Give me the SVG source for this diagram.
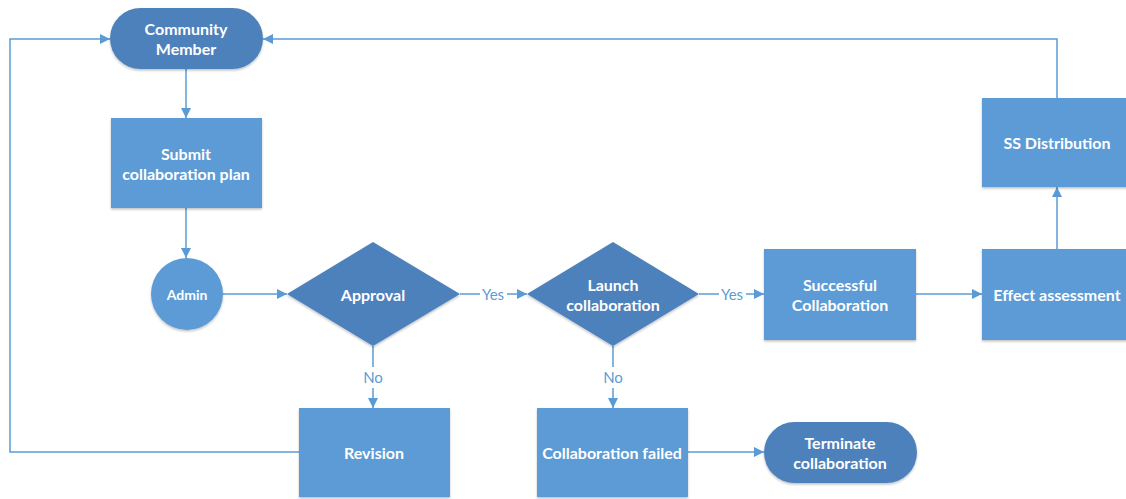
<svg xmlns="http://www.w3.org/2000/svg" width="1126" height="499" viewBox="0 0 1126 499">
<defs>
<marker id="arr" viewBox="0 0 10 10" refX="10" refY="5" markerWidth="10" markerHeight="10" markerUnits="userSpaceOnUse" orient="auto">
<path d="M0,0 L10,5 L0,10 Z" fill="#5b9bd5"/>
</marker>
<filter id="sh" x="-10%" y="-10%" width="120%" height="130%">
<feDropShadow dx="0" dy="1.5" stdDeviation="1.2" flood-color="#000" flood-opacity="0.25"/>
</filter>
</defs>
<style>
.dark{fill:#4e81bc;filter:url(#sh)}
.light{fill:#5b9bd5;filter:url(#sh)}
.t{font-family:Lato,"Open Sans","Liberation Sans",sans-serif;font-weight:bold;font-size:16px;fill:#ffffff;text-anchor:middle;dominant-baseline:central}
.c{fill:none;stroke:#5b9bd5;stroke-width:1.5}
.lbl{font-family:Lato,"Open Sans","Liberation Sans",sans-serif;font-size:15px;fill:#5b9bd5;text-anchor:middle;dominant-baseline:central}
</style>
<rect width="1126" height="499" fill="#ffffff"/>
<g id="connectors">
<path class="c" d="M186,69 V118" marker-end="url(#arr)"/>
<path class="c" d="M186,208 V258" marker-end="url(#arr)"/>
<path class="c" d="M223,294 H287" marker-end="url(#arr)"/>
<path class="c" d="M460,294 H527" marker-end="url(#arr)"/>
<path class="c" d="M699,294 H764" marker-end="url(#arr)"/>
<path class="c" d="M916,294 H982" marker-end="url(#arr)"/>
<path class="c" d="M1057,249 V187" marker-end="url(#arr)"/>
<path class="c" d="M1057,98 V39 H263" marker-end="url(#arr)"/>
<path class="c" d="M373,346 V408" marker-end="url(#arr)"/>
<path class="c" d="M613,346 V408" marker-end="url(#arr)"/>
<path class="c" d="M688,452 H764" marker-end="url(#arr)"/>
<path class="c" d="M299,452 H10 V39 H110" marker-end="url(#arr)"/>
<rect x="480" y="284" width="27" height="20" fill="#ffffff"/>
<text class="lbl" x="493" y="294">Yes</text>
<rect x="719" y="284" width="27" height="20" fill="#ffffff"/>
<text class="lbl" x="732" y="294">Yes</text>
<rect x="362" y="367" width="22" height="21" fill="#ffffff"/>
<text class="lbl" x="373" y="377">No</text>
<rect x="602" y="367" width="22" height="21" fill="#ffffff"/>
<text class="lbl" x="613" y="377">No</text>
</g>
<g id="community-member">
<rect class="dark" x="110" y="8" width="153" height="61" rx="30.5"/>
<text class="t" x="186" y="28">Community</text>
<text class="t" x="186" y="48">Member</text>
</g>
<g id="submit">
<rect class="light" x="111" y="118" width="151" height="90"/>
<text class="t" x="186" y="153">Submit</text>
<text class="t" x="186" y="173">collaboration plan</text>
</g>
<g id="admin">
<circle class="light" cx="187" cy="294" r="36"/>
<text class="t" x="187" y="294" style="font-size:14px">Admin</text>
</g>
<g id="approval">
<polygon class="dark" points="287,294 373,242 460,294 373,346"/>
<text class="t" x="373" y="294">Approval</text>
</g>
<g id="launch">
<polygon class="dark" points="527,294 613,242 699,294 613,346"/>
<text class="t" x="613" y="284">Launch</text>
<text class="t" x="613" y="304">collaboration</text>
</g>
<g id="successful">
<rect class="light" x="764" y="249" width="152" height="91"/>
<text class="t" x="840" y="284">Successful</text>
<text class="t" x="840" y="304">Collaboration</text>
</g>
<g id="effect">
<rect class="light" x="982" y="249" width="152" height="91"/>
<text class="t" x="1057" y="294">Effect assessment</text>
</g>
<g id="ss-distribution">
<rect class="light" x="982" y="98" width="152" height="89"/>
<text class="t" x="1057" y="142">SS Distribution</text>
</g>
<g id="revision">
<rect class="light" x="299" y="408" width="151" height="89"/>
<text class="t" x="374" y="452">Revision</text>
</g>
<g id="failed">
<rect class="light" x="537" y="408" width="151" height="89"/>
<text class="t" x="612" y="452">Collaboration failed</text>
</g>
<g id="terminate">
<rect class="dark" x="764" y="422" width="153" height="61" rx="30.5"/>
<text class="t" x="840" y="442">Terminate</text>
<text class="t" x="840" y="462">collaboration</text>
</g>
</svg>
